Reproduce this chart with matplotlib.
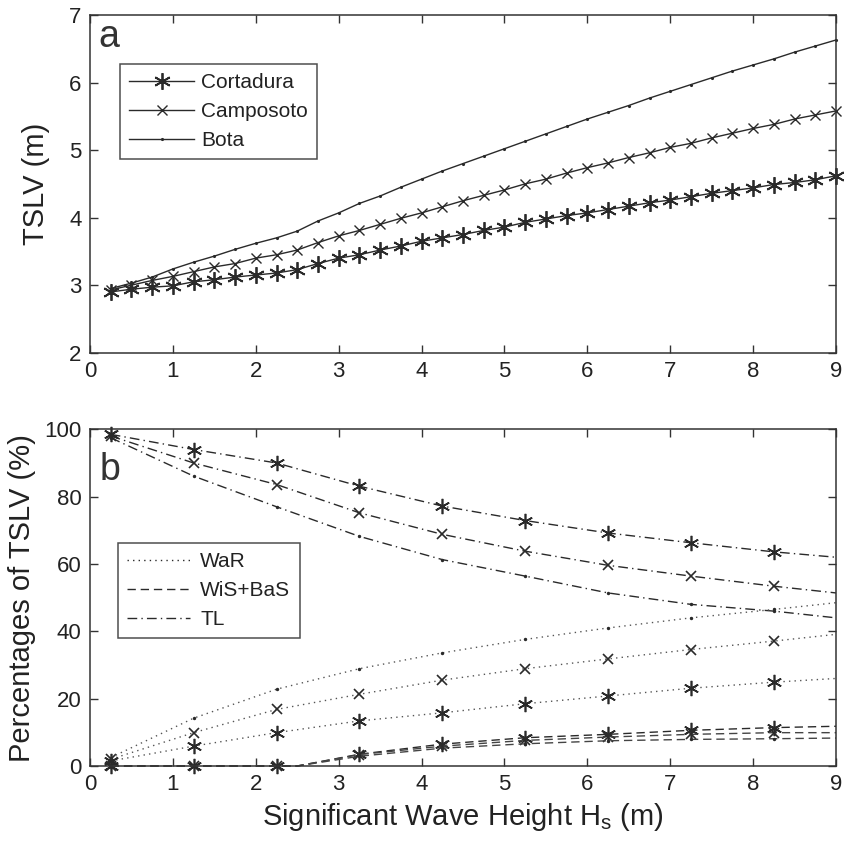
import matplotlib
matplotlib.use("Agg")
import matplotlib.pyplot as plt
from matplotlib.lines import Line2D

plt.rcParams['font.family'] = ['Liberation Sans', 'DejaVu Sans']
plt.rcParams['mathtext.default'] = 'regular'

# ---------------- data ----------------
hs_top = [0.25, 0.5, 0.75, 1.0, 1.25, 1.5, 1.75, 2.0, 2.25, 2.5, 2.75, 3.0,
          3.25, 3.5, 3.75, 4.0, 4.25, 4.5, 4.75, 5.0, 5.25, 5.5, 5.75, 6.0,
          6.25, 6.5, 6.75, 7.0, 7.25, 7.5, 7.75, 8.0, 8.25, 8.5, 8.75, 9.0]
tslv_cortadura = [2.90, 2.94, 2.97, 2.99, 3.05, 3.08, 3.12, 3.15, 3.18, 3.23, 3.32, 3.40,
                  3.45, 3.52, 3.58, 3.65, 3.70, 3.75, 3.81, 3.86, 3.93, 3.98, 4.03, 4.07,
                  4.12, 4.17, 4.22, 4.26, 4.31, 4.36, 4.40, 4.44, 4.49, 4.52, 4.56, 4.62]
tslv_camposoto = [2.93, 3.00, 3.07, 3.13, 3.20, 3.27, 3.32, 3.40, 3.45, 3.52, 3.63, 3.73,
                  3.81, 3.90, 3.99, 4.07, 4.16, 4.25, 4.33, 4.41, 4.50, 4.57, 4.66, 4.74,
                  4.81, 4.89, 4.96, 5.04, 5.10, 5.18, 5.25, 5.32, 5.38, 5.46, 5.52, 5.58]
tslv_bota = [2.95, 3.03, 3.12, 3.24, 3.34, 3.43, 3.53, 3.62, 3.70, 3.80, 3.95, 4.07,
             4.21, 4.32, 4.45, 4.57, 4.69, 4.80, 4.91, 5.02, 5.13, 5.24, 5.35, 5.46,
             5.56, 5.66, 5.77, 5.87, 5.97, 6.07, 6.17, 6.26, 6.35, 6.45, 6.54, 6.63]
beaches = ['Cortadura', 'Camposoto', 'Bota']

hs_pct = [0.25, 1.25, 2.25, 3.25, 4.25, 5.25, 6.25, 7.25, 8.25, 9.0]
tl_cortadura = [98.5, 94.0, 90.0, 83.1, 77.2, 72.9, 69.2, 66.3, 63.6, 62.0]
tl_camposoto = [98.0, 90.0, 83.6, 75.2, 68.8, 63.8, 59.6, 56.4, 53.4, 51.4]
tl_bota = [97.5, 86.1, 77.0, 68.2, 61.3, 56.4, 51.4, 48.0, 46.0, 44.0]
war_cortadura = [1.5, 5.9, 9.9, 13.4, 15.8, 18.5, 20.8, 23.1, 24.9, 26.0]
war_camposoto = [2.0, 9.9, 16.8, 21.3, 25.5, 28.9, 31.8, 34.6, 37.1, 39.1]
war_bota = [2.5, 14.2, 22.8, 28.9, 33.6, 37.6, 41.0, 44.0, 46.5, 48.5]

hs_wis = [0.25, 1.25, 2.25, 2.5, 3.25, 4.25, 5.25, 6.25, 7.25, 8.25, 9.0]
wis_cortadura = [0.0, 0.0, 0.0, 0.0, 3.5, 6.5, 8.4, 9.4, 10.6, 11.4, 11.8]
wis_camposoto = [0.0, 0.0, 0.0, 0.0, 3.4, 5.9, 7.6, 8.6, 9.4, 9.9, 9.9]
wis_bota = [0.0, 0.0, 0.0, 0.0, 2.9, 5.3, 6.6, 7.5, 7.9, 8.1, 8.3]
components = ['WaR', 'WiS+BaS', 'TL']

xticks = [0, 1, 2, 3, 4, 5, 6, 7, 8, 9]
yticks_top = [2, 3, 4, 5, 6, 7]
yticks_bot = [0, 20, 40, 60, 80, 100]

# ---------------- style ----------------
W, H = 844, 841
fig = plt.figure(figsize=(W / 100, H / 100), dpi=100)
txt = '#222222'
lc = '#2a2a2a'
star = (6, 2, 0)

def px_axes(l, t, r, b):
    return fig.add_axes([l / W, 1 - b / H, (r - l) / W, (b - t) / H])

def style(ax):
    for s in ax.spines.values():
        s.set_linewidth(1.1)
        s.set_color('#333333')
    ax.tick_params(direction='in', length=6, width=1.0, top=True, right=True,
                   labelsize=16, colors='#333333', labelcolor=txt, pad=6)

ax1 = px_axes(90, 15, 836, 352.7)
ax2 = px_axes(90, 429.3, 836, 766)

# ---- panel a ----
ax1.plot(hs_top, tslv_cortadura, color=lc, lw=1.0, marker=star, ms=12, mew=1.3,
         clip_on=False, label=beaches[0])
ax1.plot(hs_top, tslv_camposoto, color=lc, lw=1.0, marker='x', ms=7.5, mew=1.0,
         clip_on=False, label=beaches[1])
ax1.plot(hs_top, tslv_bota, color=lc, lw=1.0, marker='.', ms=2.5,
         clip_on=False, label=beaches[2])
ax1.set_xlim(0, 9)
ax1.set_ylim(2, 7)
ax1.set_xticks(xticks)
ax1.set_yticks(yticks_top)
ax1.set_ylabel('TSLV (m)', fontsize=21, color=txt, labelpad=14)
style(ax1)
ax1.text(0.0107, 0.905, 'a', transform=ax1.transAxes, fontsize=27, color='#333333',
         va='baseline', ha='left')
leg1 = ax1.legend(loc='upper left', bbox_to_anchor=(0.0402, 0.855), borderaxespad=0,
                  fontsize=15, frameon=True, fancybox=False, handlelength=3.1,
                  handletextpad=0.35, labelspacing=0.47, borderpad=0.45,
                  edgecolor='#222222')
leg1.get_frame().set_linewidth(1.1)
for t in leg1.get_texts():
    t.set_color(txt)

# ---- panel b ----
mk_idx = [0, 1, 2, 3, 4, 5, 6, 7, 8]
mk_idx_wis = [0, 1, 2, 4, 5, 6, 7, 8, 9]
dot = (0, (1.0, 3.0))
dash = (0, (6.0, 3.5))
dashdot = (0, (7.0, 3.0, 1.0, 3.0))
gray = '#555555'

series_b = [
    (hs_pct, tl_cortadura, dashdot, star, 11, lc, mk_idx),
    (hs_pct, tl_camposoto, dashdot, 'x', 7.5, lc, mk_idx),
    (hs_pct, tl_bota, dashdot, '.', 2.5, lc, mk_idx),
    (hs_pct, war_cortadura, dot, star, 11, gray, mk_idx),
    (hs_pct, war_camposoto, dot, 'x', 7.5, gray, mk_idx),
    (hs_pct, war_bota, dot, '.', 2.5, gray, mk_idx),
    (hs_wis, wis_cortadura, dash, star, 11, lc, mk_idx_wis),
    (hs_wis, wis_camposoto, dash, 'x', 7.5, '#444444', mk_idx_wis),
    (hs_wis, wis_bota, dash, '.', 2.5, '#444444', mk_idx_wis),
]
for x, y, ls, m, ms, c, me in series_b:
    ax2.plot(x, y, color=c, lw=1.0, ls=ls, marker=m, ms=ms, mew=1.2,
             markevery=me, mec=lc, mfc=lc, clip_on=False)

ax2.set_xlim(0, 9)
ax2.set_ylim(0, 100)
ax2.set_xticks(xticks)
ax2.set_yticks(yticks_bot)
ax2.set_ylabel('Percentages of TSLV (%)', fontsize=21, color=txt, labelpad=6)
ax2.set_xlabel('Significant Wave Height H$_{s}$ (m)', fontsize=21, color=txt, labelpad=4)
style(ax2)
ax2.text(0.0134, 0.849, 'b', transform=ax2.transAxes, fontsize=27, color='#333333',
         va='baseline', ha='left')
handles = [Line2D([], [], color=lc, lw=1.0, ls=dot),
           Line2D([], [], color=lc, lw=1.0, ls=dash),
           Line2D([], [], color=lc, lw=1.0, ls=dashdot)]
leg2 = ax2.legend(handles, components, loc='upper left', bbox_to_anchor=(0.0375, 0.662),
                  borderaxespad=0, fontsize=15, frameon=True, fancybox=False,
                  handlelength=3.0, handletextpad=0.5, labelspacing=0.47,
                  borderpad=0.45, edgecolor='#222222')
leg2.get_frame().set_linewidth(1.1)
for t in leg2.get_texts():
    t.set_color(txt)

fig.savefig('out.png', dpi=100, facecolor='white')
